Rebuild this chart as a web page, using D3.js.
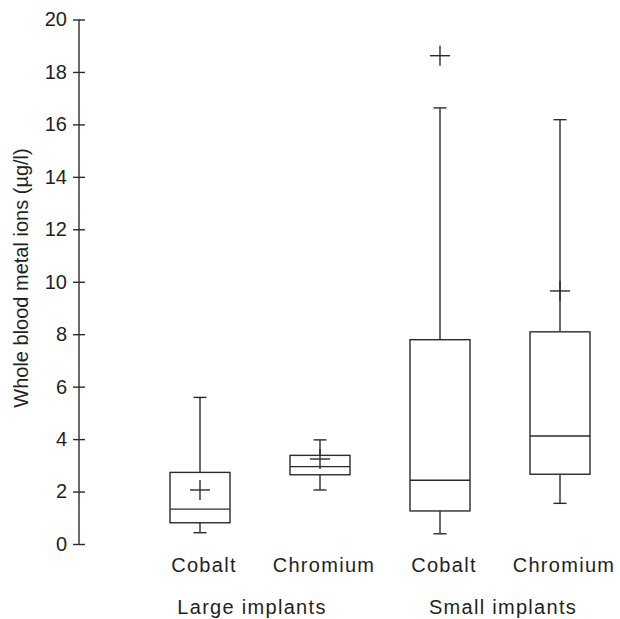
<!DOCTYPE html>
<html>
<head>
<meta charset="utf-8">
<script src="https://cdn.jsdelivr.net/npm/d3@7"></script>
<style>
  html, body { margin: 0; padding: 0; background: #fff; }
  svg { display: block; }
  text { font-family: "Liberation Sans", Arial, Helvetica, sans-serif; fill: #231f20; }
</style>
</head>
<body>
<svg id="chart" width="620" height="619"></svg>
<script>
// ---- data ----
const categories = ["Cobalt", "Chromium", "Cobalt", "Chromium"];
const groups = ["Large implants", "Small implants"];
const groupOf = [0, 0, 1, 1];
const whiskerLow  = [0.43, 2.06, 0.39, 1.55];
const q1          = [0.81, 2.64, 1.26, 2.66];
const median      = [1.33, 2.95, 2.43, 4.12];
const q3          = [2.73, 3.38, 7.79, 8.09];
const whiskerHigh = [5.59, 3.97, 16.63, 16.18];
const markerPlus  = [2.06, 3.24, 18.62, 9.65];
const yTicks = [0, 2, 4, 6, 8, 10, 12, 14, 16, 18, 20];

// ---- layout ----
const svg = d3.select("#chart");
const ink = "#2b2b2b";
const y = d3.scaleLinear().domain([0, 20]).range([544, 19.5]);
const x = d3.scalePoint().domain(d3.range(categories.length)).range([200, 560]);
const boxW = 60, capW = 13, plus = 20;
const axisX = 79;

// y axis
const yAxis = d3.axisLeft(y).tickValues(yTicks).tickSize(0).tickPadding(12);
const ga = svg.append("g").attr("transform", `translate(${axisX},0)`).call(yAxis);
ga.select(".domain").remove();
ga.selectAll(".tick text").attr("font-size", 20).attr("fill", "#231f20")
  .attr("font-family", "Liberation Sans, Arial, sans-serif");
ga.append("line").attr("x1", 0).attr("x2", 0).attr("y1", y(0)).attr("y2", y(20))
  .attr("stroke", ink).attr("stroke-width", 1.4);
ga.selectAll(".tick").append("line").attr("x1", -6).attr("x2", 6)
  .attr("stroke", ink).attr("stroke-width", 1.4);

svg.append("text")
  .attr("transform", `translate(27.5,${278}) rotate(-90)`)
  .attr("text-anchor", "middle").attr("font-size", 20)
  .text("Whole blood metal ions (µg/l)");

// boxes
const g = svg.append("g").attr("stroke", ink).attr("stroke-width", 1.4).attr("fill", "none");
categories.forEach((c, i) => {
  const cx = x(i);
  // whiskers
  g.append("line").attr("x1", cx).attr("x2", cx).attr("y1", y(whiskerHigh[i])).attr("y2", y(q3[i]));
  g.append("line").attr("x1", cx).attr("x2", cx).attr("y1", y(q1[i])).attr("y2", y(whiskerLow[i]));
  g.append("line").attr("x1", cx - capW / 2).attr("x2", cx + capW / 2).attr("y1", y(whiskerHigh[i])).attr("y2", y(whiskerHigh[i]));
  g.append("line").attr("x1", cx - capW / 2).attr("x2", cx + capW / 2).attr("y1", y(whiskerLow[i])).attr("y2", y(whiskerLow[i]));
  // box
  g.append("rect").attr("x", cx - boxW / 2).attr("width", boxW)
    .attr("y", y(q3[i])).attr("height", y(q1[i]) - y(q3[i])).attr("fill", "#fff");
  g.append("line").attr("x1", cx - boxW / 2).attr("x2", cx + boxW / 2).attr("y1", y(median[i])).attr("y2", y(median[i]));
  // plus marker
  const my = y(markerPlus[i]);
  g.append("line").attr("x1", cx - plus / 2).attr("x2", cx + plus / 2).attr("y1", my).attr("y2", my);
  g.append("line").attr("x1", cx).attr("x2", cx).attr("y1", my - plus / 2).attr("y2", my + plus / 2);
});

// category labels
svg.append("g").selectAll("text").data(categories).join("text")
  .attr("x", (d, i) => x(i) + 4).attr("y", 572)
  .attr("text-anchor", "middle").attr("font-size", 20).attr("letter-spacing", 1.3)
  .text(d => d);

// group labels
const groupOffsets = [-8, 3];
svg.append("g").selectAll("text").data(groups).join("text")
  .attr("x", (d, gi) => {
    const idx = d3.range(categories.length).filter(i => groupOf[i] === gi);
    return d3.mean(idx, i => x(i)) + groupOffsets[gi];
  })
  .attr("y", 614)
  .attr("text-anchor", "middle").attr("font-size", 20).attr("letter-spacing", 1.3)
  .text(d => d);
</script>
</body>
</html>
